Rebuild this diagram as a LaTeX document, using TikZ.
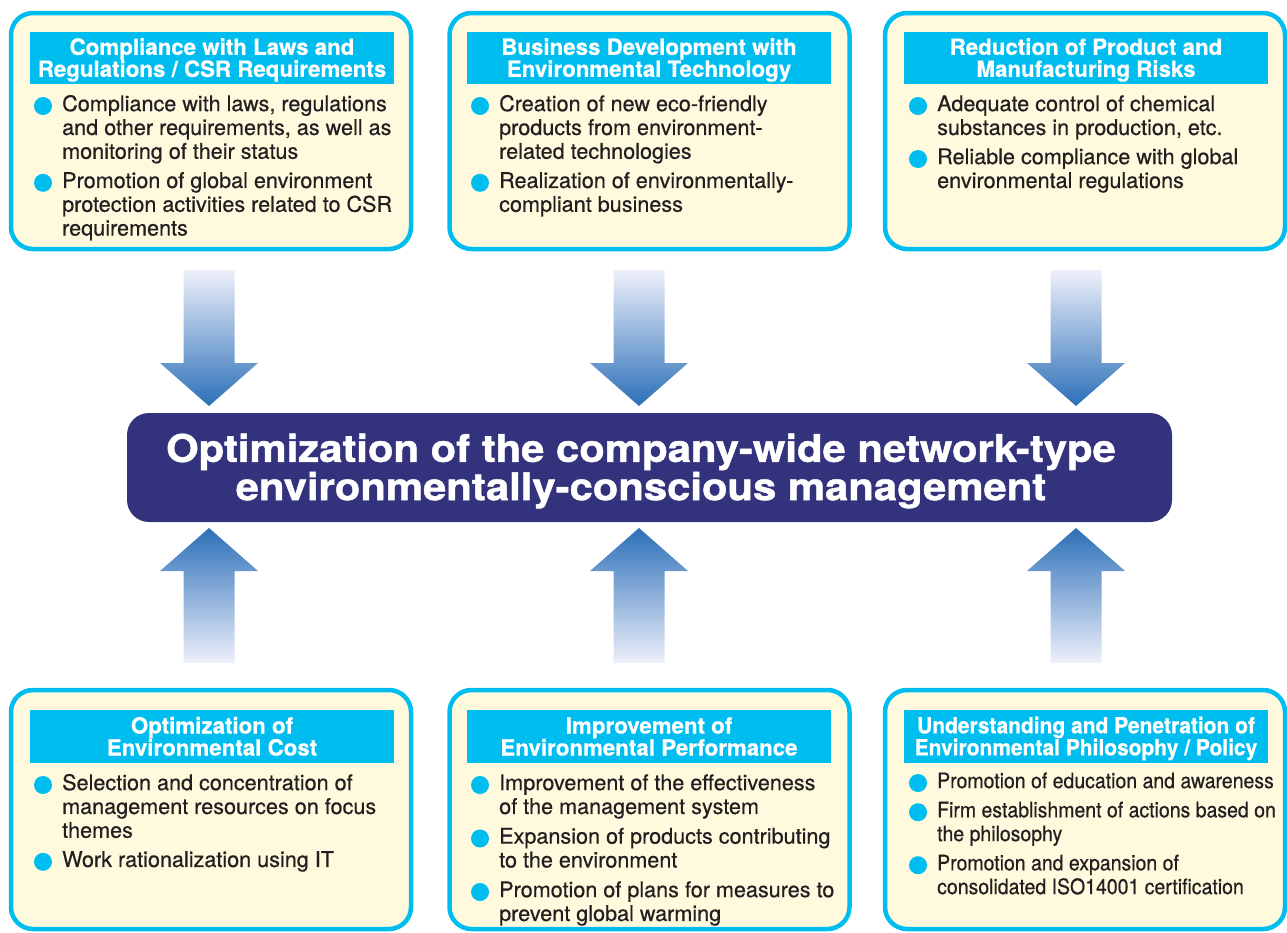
\documentclass[tikz,border=0pt]{standalone}
\usepackage{fontspec}
\setmainfont{TeX Gyre Heros}
\newfontfamily\itemfont[FakeBold=0.5]{TeX Gyre Heros}
\newfontfamily\narrowfont[FakeStretch=0.91, FakeBold=0.5]{TeX Gyre Heros}
\newfontfamily\headfont[FakeBold=0.6]{TeX Gyre Heros}
\newfontfamily\headnarrowfont[FakeStretch=0.94, FakeBold=0.6]{TeX Gyre Heros}
\newfontfamily\widefont[FakeStretch=1.1, FakeBold=1.2]{TeX Gyre Heros}
\newcommand\hstrut{\rule{0pt}{20.5pt}}
\newcommand\hdepth{\rule[-4.5pt]{0pt}{0pt}}
\usepackage{tikz}
\usetikzlibrary{positioning}
\definecolor{cyanline}{RGB}{0, 189, 240}
\definecolor{cream}{RGB}{255, 250, 222}
\definecolor{navy}{RGB}{51, 50, 124}
\definecolor{arrowblue}{RGB}{44, 112, 184}
\definecolor{arrowpale}{RGB}{238, 240, 250}
\definecolor{ink}{RGB}{35, 31, 32}

\begin{document}
\begin{tikzpicture}[
    x=1pt, y=-1pt,
    panel/.style={rectangle, rounded corners=22pt, draw=cyanline, line width=4.5pt, fill=cream, minimum width=400pt, minimum height=236pt},
    panellow/.style={panel, minimum height=239pt},
    head/.style={rectangle, fill=cyanline, text=white, minimum width=364pt, minimum height=52pt, inner sep=0pt, align=center,
        font=\headfont\fontsize{22.3}{22}\selectfont\bfseries},
    headnarrow/.style={head, font=\headnarrowfont\fontsize{22.3}{22}\selectfont\bfseries},
    item/.style={anchor=north west, align=left, inner sep=0pt, text=ink, font=\itemfont\fontsize{21.6}{23.8}\selectfont},
    itemnarrow/.style={item, font=\narrowfont\fontsize{21.4}{23.8}\selectfont},
    dot/.style={circle, fill=cyanline, minimum size=18pt, inner sep=0pt},
    hub/.style={rectangle, rounded corners=22pt, fill=navy, minimum width=1045pt, minimum height=109pt},
    hubtext/.style={text=white, align=center, inner sep=0pt, font=\widefont\fontsize{38}{38.3}\selectfont\bfseries},
    flowdown/.style={top color=arrowpale, bottom color=arrowblue},
    flowup/.style={top color=arrowblue, bottom color=arrowpale},
]
\useasboundingbox (0,0) rectangle (1287,932);

% panels
\node[panel] (pLaw) at (211,131) {};
\node[panel] (pTech) at (649.5,131) {};
\node[panel] (pRisk) at (1085,131) {};
\node[panellow] (pCost) at (211,809.5) {};
\node[panellow] (pPerf) at (649.5,809.5) {};
\node[panellow] (pPolicy) at (1085,809.5) {};

% headers
\node[head] (hLaw) at (212,58) {\hstrut Compliance with Laws and\\Regulations / CSR Requirements\hdepth};
\node[head] (hTech) at (649,58) {\hstrut Business Development with\\Environmental Technology\hdepth};
\node[head] (hRisk) at (1086,58) {\hstrut Reduction of Product and\\Manufacturing Risks\hdepth};
\node[head, minimum height=53pt] (hCost) at (212,736.5) {\hstrut Optimization of\\Environmental Cost\hdepth};
\node[head, minimum height=53pt] (hPerf) at (649,736.5) {\hstrut Improvement of\\Environmental Performance\hdepth};
\node[headnarrow, minimum height=53pt] (hPolicy) at (1086,736.5) {\hstrut Understanding and Penetration of\\Environmental Philosophy / Policy\hdepth};

% items, top row
\node[item] (iLaw1) at (62,94.3) {\strut Compliance with laws, regulations\\and other requirements, as well as\\monitoring of their status\strut};
\node[item, below=5pt of iLaw1.south west, anchor=north west] (iLaw2) {\strut Promotion of global environment\\protection activities related to CSR\\requirements\strut};

\node[item] (iTech1) at (499,94.3) {\strut Creation of new eco-friendly\\products from environment-\\related technologies\strut};
\node[item, below=5pt of iTech1.south west, anchor=north west] (iTech2) {\strut Realization of environmentally-\\compliant business\strut};

\node[item] (iRisk1) at (937,94.3) {\strut Adequate control of chemical\\substances in production, etc.\strut};
\node[item, below=5pt of iRisk1.south west, anchor=north west] (iRisk2) {\strut Reliable compliance with global\\environmental regulations\strut};

% items, bottom row
\node[item] (iCost1) at (62,773.3) {\strut Selection and concentration of\\management resources on focus\\themes\strut};
\node[item, below=5pt of iCost1.south west, anchor=north west] (iCost2) {\strut Work rationalization using IT\strut};

\node[item] (iPerf1) at (499,773.3) {\strut Improvement of the effectiveness\\of the management system\strut};
\node[item, below=5.5pt of iPerf1.south west, anchor=north west] (iPerf2) {\strut Expansion of products contributing\\to the environment\strut};
\node[item, below=5.5pt of iPerf2.south west, anchor=north west] (iPerf3) {\strut Promotion of plans for measures to\\prevent global warming\strut};

\node[itemnarrow] (iPolicy1) at (937,771.3) {\strut Promotion of education and awareness\strut};
\node[itemnarrow, below=5pt of iPolicy1.south west, anchor=north west] (iPolicy2) {\strut Firm establishment of actions based on\\the philosophy\strut};
\node[itemnarrow, below=5pt of iPolicy2.south west, anchor=north west] (iPolicy3) {\strut Promotion and expansion of\\consolidated ISO14001 certification\strut};

% bullets
\node[dot] (dLaw1) at ([xshift=-19pt, yshift=-11.7pt] iLaw1.north west) {};
\node[dot] (dLaw2) at ([xshift=-19pt, yshift=-11.7pt] iLaw2.north west) {};
\node[dot] (dTech1) at ([xshift=-19pt, yshift=-11.7pt] iTech1.north west) {};
\node[dot] (dTech2) at ([xshift=-19pt, yshift=-11.7pt] iTech2.north west) {};
\node[dot] (dRisk1) at ([xshift=-19pt, yshift=-11.7pt] iRisk1.north west) {};
\node[dot] (dRisk2) at ([xshift=-19pt, yshift=-11.7pt] iRisk2.north west) {};
\node[dot] (dCost1) at ([xshift=-19pt, yshift=-11.7pt] iCost1.north west) {};
\node[dot] (dCost2) at ([xshift=-19pt, yshift=-11.7pt] iCost2.north west) {};
\node[dot] (dPerf1) at ([xshift=-19pt, yshift=-11.7pt] iPerf1.north west) {};
\node[dot] (dPerf2) at ([xshift=-19pt, yshift=-11.7pt] iPerf2.north west) {};
\node[dot] (dPerf3) at ([xshift=-19pt, yshift=-11.7pt] iPerf3.north west) {};
\node[dot] (dPolicy1) at ([xshift=-19pt, yshift=-11.7pt] iPolicy1.north west) {};
\node[dot] (dPolicy2) at ([xshift=-19pt, yshift=-11.7pt] iPolicy2.north west) {};
\node[dot] (dPolicy3) at ([xshift=-19pt, yshift=-11.7pt] iPolicy3.north west) {};

% central box
\node[hub] (hub) at (649.5,467.5) {};
\node[hubtext] (hubTitle) at (641,471) {Optimization of the company-wide network-type\\environmentally-conscious management};

% block arrows
\coordinate (aLaw) at (209,270);
\coordinate (aTech) at (639,270);
\coordinate (aRisk) at (1076,270);
\coordinate (aCost) at (209,663);
\coordinate (aPerf) at (639,663);
\coordinate (aPolicy) at (1076,663);

\path[flowdown] (aLaw) ++(-25.5,0) -- ++(0,93) -- ++(-23.5,0) -- ++(49,43) -- ++(49,-43) -- ++(-23.5,0) -- ++(0,-93) -- cycle;
\path[flowdown] (aTech) ++(-25.5,0) -- ++(0,93) -- ++(-23.5,0) -- ++(49,43) -- ++(49,-43) -- ++(-23.5,0) -- ++(0,-93) -- cycle;
\path[flowdown] (aRisk) ++(-25.5,0) -- ++(0,93) -- ++(-23.5,0) -- ++(49,43) -- ++(49,-43) -- ++(-23.5,0) -- ++(0,-93) -- cycle;

\path[flowup] (aCost) ++(-25.5,0) -- ++(0,-92) -- ++(-23.5,0) -- ++(49,-43) -- ++(49,43) -- ++(-23.5,0) -- ++(0,92) -- cycle;
\path[flowup] (aPerf) ++(-25.5,0) -- ++(0,-92) -- ++(-23.5,0) -- ++(49,-43) -- ++(49,43) -- ++(-23.5,0) -- ++(0,92) -- cycle;
\path[flowup] (aPolicy) ++(-25.5,0) -- ++(0,-92) -- ++(-23.5,0) -- ++(49,-43) -- ++(49,43) -- ++(-23.5,0) -- ++(0,92) -- cycle;

\end{tikzpicture}
\end{document}
